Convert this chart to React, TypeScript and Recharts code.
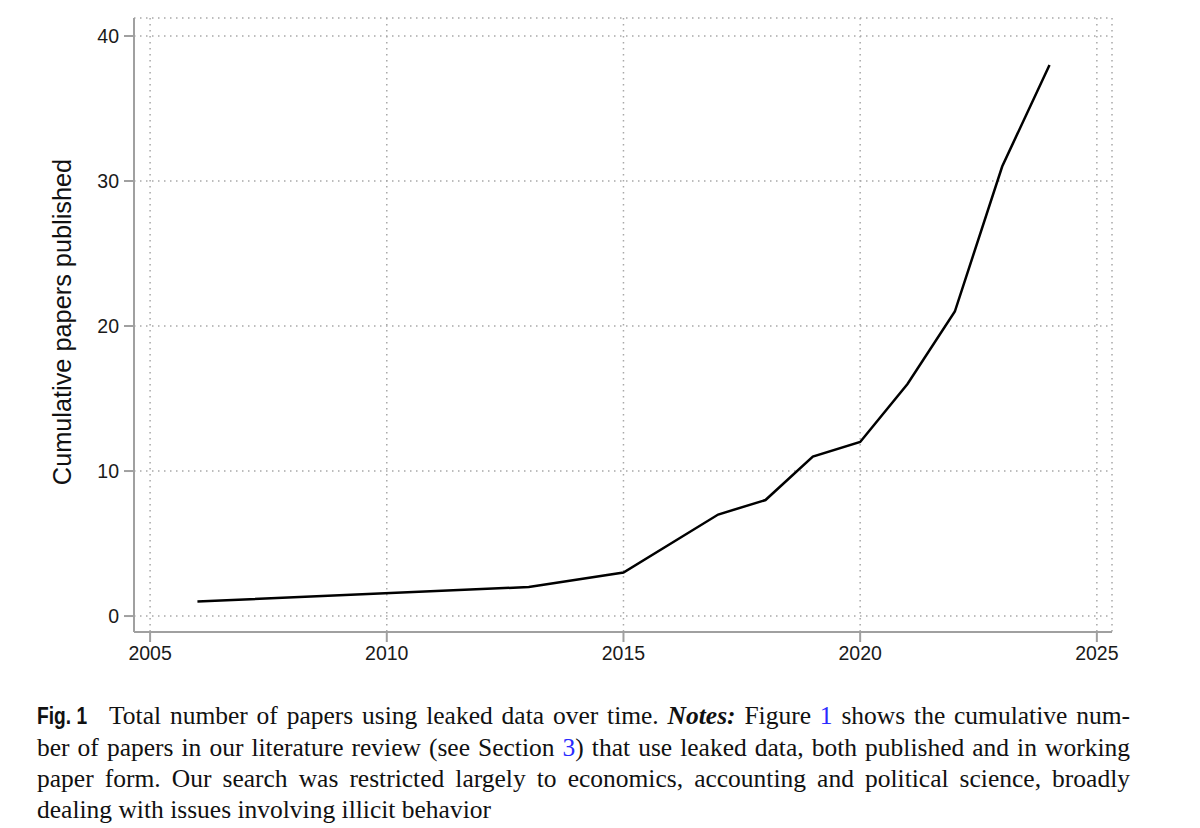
import { CartesianGrid, Line, LineChart, XAxis, YAxis } from "recharts";

const years = [2006, 2013, 2015, 2017, 2018, 2019, 2020, 2021, 2022, 2023, 2024];
const papers = [1, 2, 3, 7, 8, 11, 12, 16, 21, 31, 38];

const xTicks = [2005, 2010, 2015, 2020, 2025];
const yTicks = [0, 10, 20, 30, 40];

const data = years.map((year, i) => ({ year, papers: papers[i] }));

const axisGray = "#a0a0a0";
const tickStyle = { fontSize: 19.5, fill: "#1a1a1a", fontFamily: "'Liberation Sans', Arial, sans-serif" };
const blue = "#2a2aff";

function Caption() {
  const line = {
    position: "absolute" as const,
    left: 37,
    width: 1093,
    textAlign: "justify" as const,
    textAlignLast: "justify" as const,
    whiteSpace: "normal" as const,
    fontFamily: "'Liberation Serif', 'Times New Roman', serif",
    fontSize: 25.5,
    lineHeight: "30px",
    color: "#111",
  };
  return (
    <>
      <div style={{ ...line, top: 701 }}>
        <span style={{ display: "inline-block", width: 72 }}>
          <span
            style={{
              display: "inline-block",
              whiteSpace: "nowrap",
              textAlign: "left",
              textAlignLast: "left",
              transform: "scaleX(0.8)",
              transformOrigin: "left center",
              fontFamily: "'Liberation Sans', Arial, sans-serif",
              fontWeight: "bold",
              fontSize: 24,
            }}
          >
            Fig. 1
          </span>
        </span>
        Total number of papers using leaked data over time. <b><i>Notes:</i></b> Figure{" "}
        <span style={{ color: blue }}>1</span> shows the cumulative num-
      </div>
      <div style={{ ...line, top: 733 }}>
        ber of papers in our literature review (see Section <span style={{ color: blue }}>3</span>) that use leaked
        data, both published and in working
      </div>
      <div style={{ ...line, top: 764 }}>
        paper form. Our search was restricted largely to economics, accounting and political science, broadly
      </div>
      <div style={{ ...line, top: 795, textAlignLast: "left" }}>dealing with issues involving illicit behavior</div>
    </>
  );
}

export default function App() {
  return (
    <div style={{ position: "absolute", left: 0, top: 0, width: 1200, height: 828, background: "#fff" }}>
      <LineChart width={1200} height={690} data={data} margin={{ top: 18, right: 88, bottom: 18, left: 74 }}>
        <CartesianGrid stroke="#a8a8a8" strokeWidth={1.5} strokeDasharray="1.5 4.5" />
        <XAxis
          dataKey="year"
          type="number"
          domain={[2004.66, 2025.32]}
          ticks={xTicks}
          allowDataOverflow
          height={40}
          stroke={axisGray}
          strokeWidth={2}
          tickSize={10}
          tickMargin={4}
          tick={tickStyle}
          tickLine={{ stroke: axisGray, strokeWidth: 2 }}
        />
        <YAxis
          type="number"
          domain={[-1.1, 41.24]}
          ticks={yTicks}
          allowDataOverflow
          width={60}
          stroke={axisGray}
          strokeWidth={2}
          tickSize={10}
          tickMargin={5}
          tick={tickStyle}
          tickLine={{ stroke: axisGray, strokeWidth: 2 }}
        />
        <Line
          dataKey="papers"
          type="linear"
          stroke="#000"
          strokeWidth={2.5}
          dot={false}
          activeDot={false}
          isAnimationActive={false}
        />
      </LineChart>
      <div
        style={{
          position: "absolute",
          left: 62,
          top: 322,
          transform: "translate(-50%, -50%) rotate(-90deg)",
          whiteSpace: "nowrap",
          fontFamily: "'Liberation Sans', Arial, sans-serif",
          fontSize: 25.3,
          color: "#111",
        }}
      >
        Cumulative papers published
      </div>
      <Caption />
    </div>
  );
}
